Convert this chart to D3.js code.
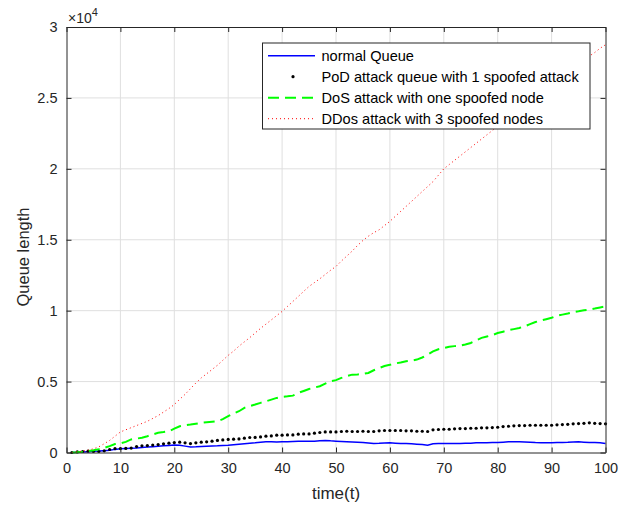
<!DOCTYPE html>
<html>
<head>
<meta charset="utf-8">
<script src="https://cdn.jsdelivr.net/npm/d3@7"></script>
<style>
  html, body { margin: 0; padding: 0; background: #fff; }
  svg { display: block; font-family: "Liberation Sans", Arial, Helvetica, sans-serif; }
</style>
</head>
<body>
<svg id="chart" width="619" height="512"></svg>
<script>
// ---- data ----
const time = d3.range(1, 101);
const normalQueue = [0,20,40,60,80,100,130,160,220,260,280,300,320,350,380,410,440,470,500,520,
  510,450,390,400,420,440,460,470,490,510,550,590,620,650,680,720,750,750,740,750,
  760,780,800,790,790,800,830,850,820,800,780,760,740,720,700,670,640,650,670,680,
  660,640,630,610,590,560,520,620,630,640,640,630,640,650,660,680,690,690,700,710,
  730,750,750,750,740,720,700,690,680,690,700,710,720,740,750,730,710,700,680,640];
const podQueue = [0,40,70,90,70,70,120,210,280,280,290,310,420,470,490,520,560,610,660,700,
  730,680,630,680,730,750,800,850,890,920,940,960,1010,1056,1060,1100,1150,1170,1220,1220,
  1240,1240,1290,1310,1310,1360,1410,1450,1450,1450,1480,1500,1480,1480,1500,1480,1480,1530,1550,1550,
  1550,1550,1530,1530,1500,1500,1480,1600,1620,1640,1640,1670,1690,1690,1710,1710,1740,1740,1760,1780,
  1830,1850,1880,1900,1900,1920,1920,1920,1920,1920,1950,1970,1990,2020,2040,2060,2090,2060,2040,2020];
const dosQueue = [0,20,50,100,160,230,330,450,600,650,750,920,980,1040,1150,1270,1390,1440,1500,1680,
  1850,1920,1970,2030,2090,2130,2170,2200,2350,2560,2750,2910,3150,3270,3380,3500,3610,3730,3850,3920,
  3960,4010,4200,4340,4480,4580,4670,4850,5020,5100,5260,5380,5490,5500,5550,5610,5800,5950,6100,6180,
  6280,6350,6430,6480,6550,6700,6900,7130,7280,7370,7450,7500,7540,7620,7720,7900,8080,8180,8280,8420,
  8520,8620,8700,8780,8900,9050,9200,9300,9400,9500,9640,9720,9800,9900,9960,10030,10080,10150,10230,10300];
const ddosQueue = [0,50,100,170,260,400,620,850,1150,1450,1600,1750,1900,2050,2200,2400,2600,2850,3100,3380,
  3750,4100,4500,4900,5260,5550,5850,6150,6500,6850,7150,7500,7800,8100,8430,8750,9050,9350,9650,9950,
  10300,10650,11000,11360,11710,11980,12250,12550,12850,13120,13500,13850,14200,14600,14950,15250,15500,15700,16000,16300,
  16650,17000,17350,17700,18050,18400,18750,19100,19550,20000,20300,20600,20900,21200,21500,21800,22100,22400,22700,23000,
  23300,23600,23900,24200,24500,24800,25100,25400,25700,26000,26300,26600,26850,27100,27400,27700,27950,28200,28500,28750];
const xTicks = [0,10,20,30,40,50,60,70,80,90,100];
const yTicks = [0,5000,10000,15000,20000,25000,30000];
const yTickLabels = ["0","0.5","1","1.5","2","2.5","3"];
const legendLabels = ["normal Queue","PoD attack queue with 1 spoofed attack","DoS attack with one spoofed node","DDos attack with 3 spoofed nodes"];

// ---- layout ----
const L = 66.5, R = 605.5, T = 27, B = 452.5;
const svg = d3.select("#chart");
const x = d3.scaleLinear().domain([0,100]).range([L,R]);
const y = d3.scaleLinear().domain([0,30000]).range([B,T]);
const axisColor = "#262626";

// grid
const grid = svg.append("g");
grid.selectAll("line.gx").data(xTicks.slice(1,-1)).join("line")
  .attr("x1", d=>x(d)).attr("x2", d=>x(d)).attr("y1", T).attr("y2", B)
  .attr("stroke", "#dfdfdf").attr("stroke-width", 1);
grid.selectAll("line.gy").data(yTicks.slice(1,-1)).join("line")
  .attr("y1", d=>y(d)).attr("y2", d=>y(d)).attr("x1", L).attr("x2", R)
  .attr("stroke", "#dfdfdf").attr("stroke-width", 1);

// series
const pts = arr => time.map((t,i)=>[t, arr[i]]);
const line = d3.line().x(d=>x(d[0])).y(d=>y(d[1]));
const plot = svg.append("g");
plot.append("path").attr("d", line(pts(normalQueue)))
  .attr("fill","none").attr("stroke","#0000ff").attr("stroke-width",1.5);
plot.selectAll("circle.pod").data(pts(podQueue)).join("circle")
  .attr("cx", d=>x(d[0])).attr("cy", d=>y(d[1])).attr("r", 1.6).attr("fill","#000");
plot.append("path").attr("d", line(pts(dosQueue)))
  .attr("fill","none").attr("stroke","#00ff00").attr("stroke-width",2)
  .attr("stroke-dasharray","11,6");
plot.append("path").attr("d", line(pts(ddosQueue)))
  .attr("fill","none").attr("stroke","#ff0000").attr("stroke-width",1)
  .attr("stroke-dasharray","1,3");

// axes (box with inward ticks)
const ax = svg.append("g");
const xAxisB = d3.axisBottom(x).tickValues(xTicks).tickSizeInner(-5).tickSizeOuter(0).tickPadding(10);
const xAxisT = d3.axisTop(x).tickValues(xTicks).tickSizeInner(-5).tickSizeOuter(0).tickFormat("");
const yAxisL = d3.axisLeft(y).tickValues(yTicks).tickSizeInner(-5).tickSizeOuter(0).tickPadding(9)
  .tickFormat((d,i)=>yTickLabels[i]);
const yAxisR = d3.axisRight(y).tickValues(yTicks).tickSizeInner(-5).tickSizeOuter(0).tickFormat("");
const styleAxis = g => {
  g.selectAll("path").attr("stroke", axisColor);
  g.selectAll("line").attr("stroke", axisColor);
  g.selectAll("text").attr("fill", axisColor).style("font-size","14.5px")
    .style("font-family",'"Liberation Sans", Arial, sans-serif');
};
ax.append("g").attr("transform",`translate(0,${B})`).call(xAxisB).call(styleAxis);
ax.append("g").attr("transform",`translate(0,${T})`).call(xAxisT).call(styleAxis);
ax.append("g").attr("transform",`translate(${L},0)`).call(yAxisL).call(styleAxis);
ax.append("g").attr("transform",`translate(${R},0)`).call(yAxisR).call(styleAxis);
ax.selectAll(".domain").attr("stroke-width",1);

// exponent label
const ex = svg.append("text").attr("x", 68).attr("y", 22.5).attr("fill", axisColor)
  .style("font-size","14px");
ex.append("tspan").text("\u00d710");
ex.append("tspan").attr("dy", -7).style("font-size","11px").text("4");

// axis titles
svg.append("text").attr("x", (L+R)/2).attr("y", 499).attr("text-anchor","middle")
  .attr("fill", axisColor).style("font-size","17px").text("time(t)");
svg.append("text").attr("transform",`translate(29,257) rotate(-90)`)
  .attr("text-anchor","middle").attr("fill", axisColor).style("font-size","16.5px").text("Queue length");

// legend
const lg = svg.append("g");
lg.append("rect").attr("x",262.5).attr("y",43).attr("width",327.5).attr("height",86)
  .attr("fill","#fff").attr("stroke",axisColor).attr("stroke-width",1);
const rowY = i => 55.7 + i*21;
lg.append("line").attr("x1",268).attr("x2",315).attr("y1",rowY(0)).attr("y2",rowY(0))
  .attr("stroke","#0000ff").attr("stroke-width",1.5);
lg.append("circle").attr("cx",293).attr("cy",rowY(1)).attr("r",1.6).attr("fill","#000");
lg.append("line").attr("x1",268).attr("x2",315).attr("y1",rowY(2)).attr("y2",rowY(2))
  .attr("stroke","#00ff00").attr("stroke-width",2).attr("stroke-dasharray","11,6");
lg.append("line").attr("x1",268).attr("x2",315).attr("y1",rowY(3)).attr("y2",rowY(3))
  .attr("stroke","#ff0000").attr("stroke-width",1).attr("stroke-dasharray","1,3");
lg.selectAll("text").data(legendLabels).join("text")
  .attr("x", 321.5).attr("y", (d,i)=>rowY(i)).attr("dy","0.35em")
  .attr("fill","#000").style("font-size","14.6px").text(d=>d);
</script>
</body>
</html>
